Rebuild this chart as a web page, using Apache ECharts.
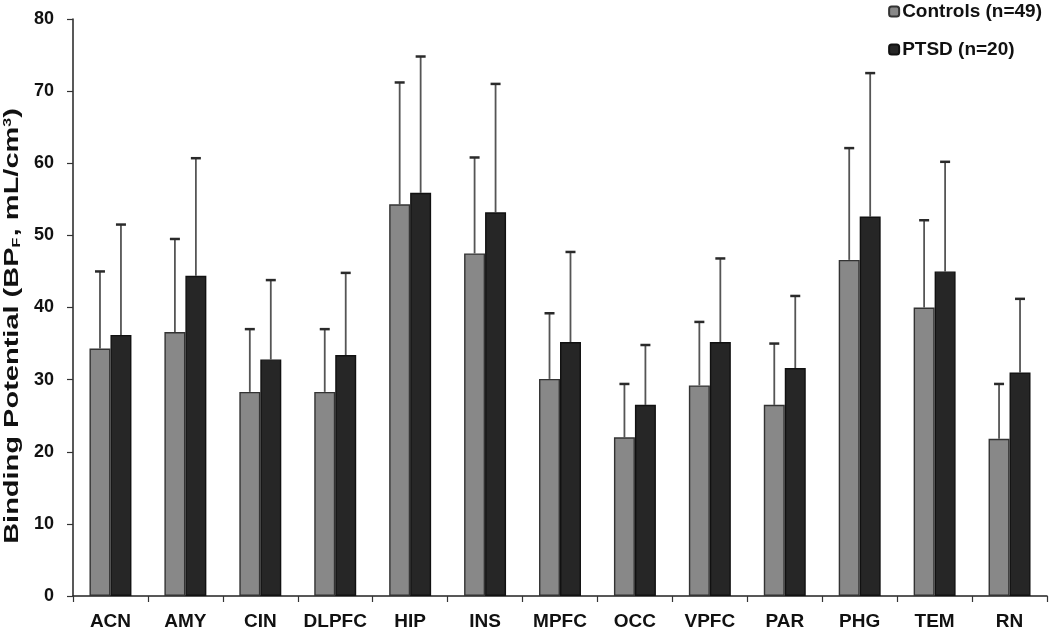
<!DOCTYPE html>
<html>
<head>
<meta charset="utf-8">
<script src="https://cdn.jsdelivr.net/npm/echarts@6/dist/echarts.min.js"></script>
<style>
html,body{margin:0;padding:0;background:#fff;}
#chart{width:1050px;height:631px;}
</style>
</head>
<body>
<div id="chart"></div>
<script>
const categories = ['ACN','AMY','CIN','DLPFC','HIP','INS','MPFC','OCC','VPFC','PAR','PHG','TEM','RN'];
const controlsMean = [34.3, 36.6, 28.3, 28.3, 54.3, 47.5, 30.1, 22.0, 29.2, 26.5, 46.6, 40.0, 21.8];
const controlsTop  = [45.0, 49.5, 37.0, 37.0, 71.2, 60.8, 39.2, 29.4, 38.0, 35.0, 62.1, 52.1, 29.4];
const ptsdMean     = [36.2, 44.4, 32.8, 33.4, 55.9, 53.2, 35.2, 26.5, 35.2, 31.6, 52.6, 45.0, 31.0];
const ptsdTop      = [51.5, 60.7, 43.8, 44.8, 74.8, 71.0, 47.7, 34.8, 46.8, 41.6, 72.5, 60.2, 41.2];
const seriesNames = ['Controls (n=49)', 'PTSD (n=20)'];
const yTicks = [0, 10, 20, 30, 40, 50, 60, 70, 80];
const yTitle = 'Binding Potential (BP{sub|F}, mL/cm{sup|3})';

const FONT = '"Liberation Sans", Arial, Helvetica, sans-serif';
const GAP = 0.44;
function errSeries(means, tops, side) {
  return {
    type: 'custom',
    z: 1,
    silent: true,
    data: categories.map((c, i) => [i, means[i], tops[i]]),
    renderItem: function (params, api) {
      const band = api.size([1, 0])[0];
      const bw = band * (1 - GAP) / 2;
      const base = api.coord([api.value(0), api.value(1)]);
      const top = api.coord([api.value(0), api.value(2)]);
      const x = base[0] + side * bw / 2;
      const half = 5;
      return {
        type: 'group',
        children: [
          { type: 'line', shape: { x1: x, y1: base[1], x2: x, y2: top[1] }, style: { stroke: '#555', lineWidth: 1.8 } },
          { type: 'line', shape: { x1: x - half, y1: top[1], x2: x + half, y2: top[1] }, style: { stroke: '#2a2a2a', lineWidth: 2.5 } }
        ]
      };
    }
  };
}

const chart = echarts.init(document.getElementById('chart'));
chart.setOption({
  animation: false,
  backgroundColor: '#ffffff',
  textStyle: { fontFamily: FONT },
  grid: { left: 73, right: 3, top: 19, bottom: 35, outerBoundsMode: 'none', containLabel: false },
  legend: {
    orient: 'vertical',
    right: 6,
    top: 0,
    padding: [2, 2, 2, 2],
    itemGap: 19,
    itemWidth: 10,
    itemHeight: 10,
    data: seriesNames,
    textStyle: { fontSize: 19, fontWeight: 'bold', color: '#111', padding: [0, 0, 0, -2], fontFamily: FONT }
  },
  graphic: [{
    type: 'text',
    x: 12,
    y: 326,
    rotation: Math.PI / 2,
    scaleX: 1.45,
    style: {
      text: yTitle,
      font: 'bold 20px ' + FONT,
      fill: '#111',
      align: 'center',
      verticalAlign: 'middle',
      rich: {
        sub: { fontSize: 11, fontWeight: 'bold', fontFamily: FONT, fill: '#111', verticalAlign: 'bottom', padding: [9, 1, 0, 0] },
        sup: { fontSize: 11, fontWeight: 'bold', fontFamily: FONT, fill: '#111', verticalAlign: 'top', padding: [0, 0, 9, 0] }
      }
    }
  }],
  xAxis: {
    type: 'category',
    data: categories,
    axisLine: { lineStyle: { color: '#222', width: 1.5 } },
    axisTick: { show: true, interval: 0, length: 6, lineStyle: { color: '#333', width: 1.2 } },
    axisLabel: { interval: 0, hideOverlap: false, fontSize: 19, fontWeight: 'bold', color: '#111', margin: 16, fontFamily: FONT }
  },
  yAxis: {
    type: 'value',
    min: yTicks[0],
    max: yTicks[yTicks.length - 1],
    interval: 10,
    splitLine: { show: false },
    axisLine: { show: true, lineStyle: { color: '#222', width: 1.5 } },
    axisTick: { show: true, length: 6, lineStyle: { color: '#333', width: 1.2 } },
    axisLabel: { fontSize: 18, fontWeight: 'bold', color: '#111', margin: 19, fontFamily: FONT }
  },
  series: [
    {
      name: seriesNames[0], type: 'bar', data: controlsMean, z: 2,
      barGap: '0%', barCategoryGap: (GAP * 100) + '%',
      itemStyle: { color: '#888888', borderColor: '#333', borderWidth: 1.4 }
    },
    {
      name: seriesNames[1], type: 'bar', data: ptsdMean, z: 2,
      barGap: '0%', barCategoryGap: (GAP * 100) + '%',
      itemStyle: { color: '#262626', borderColor: '#111', borderWidth: 1.4 }
    },
    errSeries(controlsMean, controlsTop, -1),
    errSeries(ptsdMean, ptsdTop, 1)
  ]
});
</script>
</body>
</html>
